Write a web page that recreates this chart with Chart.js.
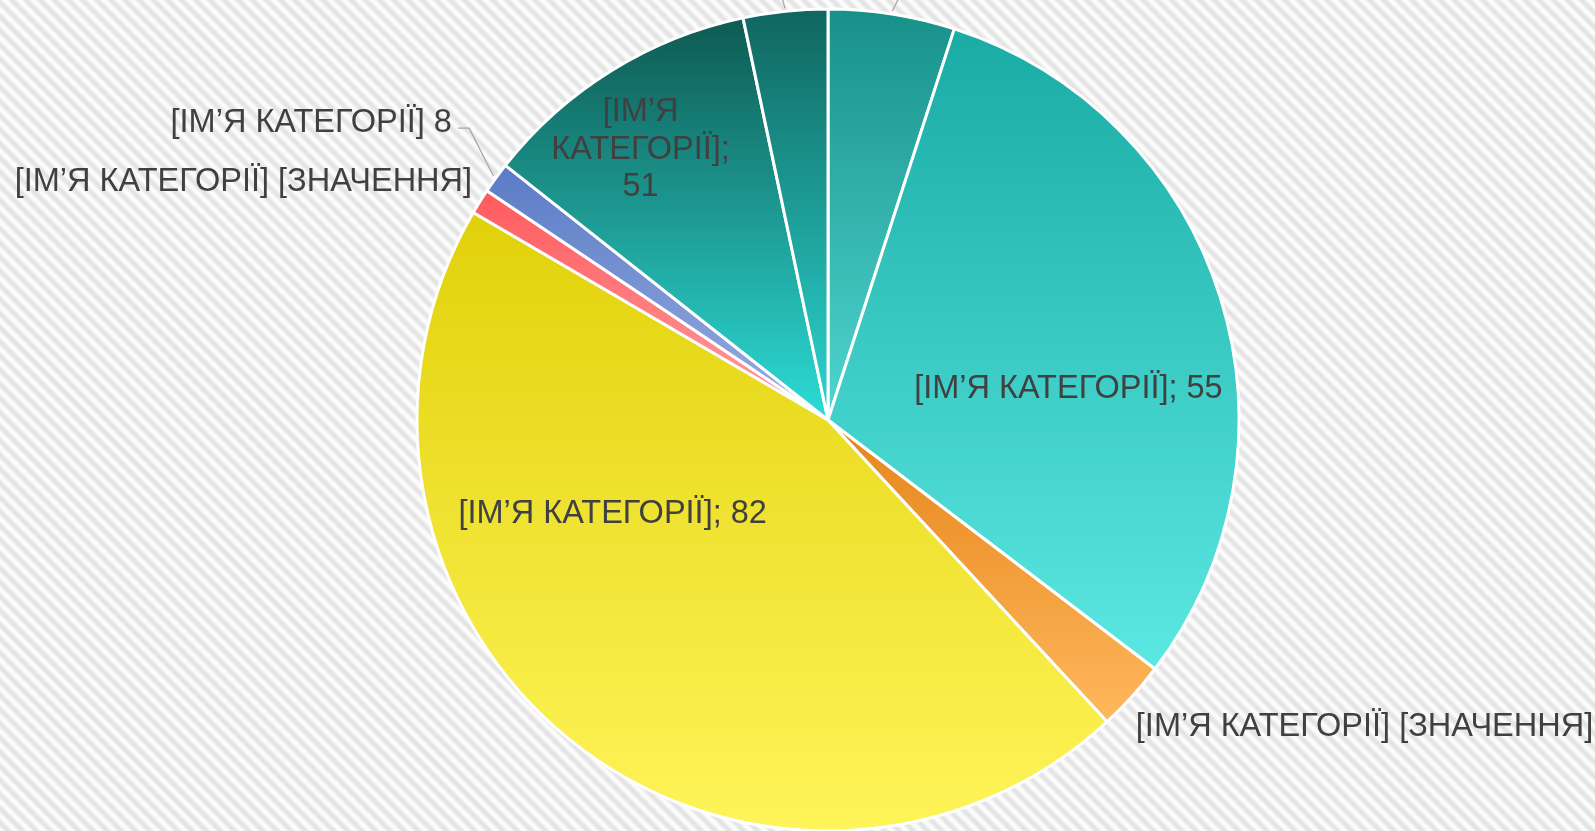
<!DOCTYPE html>
<html><head><meta charset="utf-8">
<script src="https://cdn.jsdelivr.net/npm/chart.js@4.4.1/dist/chart.umd.min.js"></script>
<style>
html,body{margin:0;padding:0;width:1595px;height:831px;overflow:hidden;
background: repeating-linear-gradient(45deg,#fcfcfc 0px,#fcfcfc 2px,#e4e4e4 5px,#e4e4e4 7px,#fcfcfc 10px);}
#wrap{position:absolute;left:0;top:0;width:1595px;height:831px;}
</style></head><body>
<div id="wrap"><canvas id="c" width="1595" height="831"></canvas></div>
<script>
// ---- data ----
const categories = ['[ІМ’Я КАТЕГОРІЇ] 1','[ІМ’Я КАТЕГОРІЇ] 2','[ІМ’Я КАТЕГОРІЇ] 3','[ІМ’Я КАТЕГОРІЇ] 4','[ІМ’Я КАТЕГОРІЇ] 5','[ІМ’Я КАТЕГОРІЇ] 6','[ІМ’Я КАТЕГОРІЇ] 7','[ІМ’Я КАТЕГОРІЇ] 8'];
const values = [9, 55, 5, 82, 1.8, 2.2, 20, 6];
const labelTexts = [
  ['[ІМ’Я КАТЕГОРІЇ] [ЗНАЧЕННЯ]'],
  ['[ІМ’Я КАТЕГОРІЇ]; 55'],
  ['[ІМ’Я КАТЕГОРІЇ] [ЗНАЧЕННЯ]'],
  ['[ІМ’Я КАТЕГОРІЇ]; 82'],
  ['[ІМ’Я КАТЕГОРІЇ] [ЗНАЧЕННЯ]'],
  ['[ІМ’Я КАТЕГОРІЇ] 8'],
  ['[ІМ’Я', 'КАТЕГОРІЇ];', '51'],
  ['[ІМ’Я КАТЕГОРІЇ] [ЗНАЧЕННЯ]']
];
const topColors    = ['#18908a','#1aaba5','#e5841a','#e1d10a','#ff5a5e','#5a7bc6','#0e5a52','#106660'];
const bottomColors = ['#4fd6cf','#5ce8e2','#ffb85c','#fff459','#ffa0a0','#9aaee0','#2ddcd6','#2cd6d0'];

// ---- label layout (fractions of the pie radius, relative to centre) ----
const labelLayout = [
  {fx: 0.207, fy: -1.17, align: 'center', leader: [[0.207, -1.098]]},
  {fx: 0.585, fy: -0.075, align: 'center'},
  {fx: 0.749, fy: 0.746, align: 'left'},
  {fx: -0.524, fy: 0.229, align: 'center'},
  {fx: -0.866, fy: -0.578, align: 'right'},
  {fx: -0.915, fy: -0.723, align: 'right', leader: [[-0.873, -0.710], [-0.900, -0.710]]},
  {fx: -0.456, fy: -0.658, align: 'center', lineH: 0.091},
  {fx: -0.13, fy: -1.17, align: 'center', leader: [[-0.13, -1.098]]}
];
const FONT = '32.5px "Liberation Sans", Arial, sans-serif';
const TEXT_COLOR = '#404040';
const LEADER_COLOR = '#a6a6a6';

function sliceGradient(ctx) {
  const i = ctx.dataIndex;
  const el = ctx.element;
  const chart = ctx.chart;
  if (!el || !chart.chartArea || typeof el.outerRadius !== 'number' || !el.outerRadius) return topColors[i];
  const {x, y, startAngle, endAngle, outerRadius} = el;
  const TAU = Math.PI * 2;
  const ys = [y, y + outerRadius * Math.sin(startAngle), y + outerRadius * Math.sin(endAngle)];
  const contains = a => { let t = a; while (t < startAngle - 1e-6) t += TAU; while (t - TAU >= startAngle - 1e-6) t -= TAU; return t <= endAngle + 1e-6; };
  if (contains(Math.PI / 2)) ys.push(y + outerRadius);
  if (contains(-Math.PI / 2)) ys.push(y - outerRadius);
  const y0 = Math.min(...ys), y1 = Math.max(...ys);
  const g = chart.ctx.createLinearGradient(0, y0, 0, y1);
  g.addColorStop(0, topColors[i]);
  g.addColorStop(1, bottomColors[i]);
  return g;
}

const labelPlugin = {
  id: 'sliceLabels',
  afterDatasetsDraw(chart) {
    const meta = chart.getDatasetMeta(0);
    const c = chart.ctx;
    c.save();
    c.font = FONT;
    c.fillStyle = TEXT_COLOR;
    c.textBaseline = 'middle';
    meta.data.forEach((arc, i) => {
      const lay = labelLayout[i];
      if (!lay) return;
      const {x: cx, y: cy, outerRadius: r, startAngle, endAngle} = arc;
      const lx = cx + lay.fx * r, ly = cy + lay.fy * r;
      if (lay.leader) {
        const mid = (startAngle + endAngle) / 2;
        c.strokeStyle = LEADER_COLOR;
        c.lineWidth = 1.3;
        c.beginPath();
        c.moveTo(cx + (r + 3) * Math.cos(mid), cy + (r + 3) * Math.sin(mid));
        lay.leader.forEach(p => c.lineTo(cx + p[0] * r, cy + p[1] * r));
        c.stroke();
      }
      const lines = labelTexts[i];
      const lh = (lay.lineH || 0.09) * r;
      c.textAlign = lay.align;
      lines.forEach((t, k) => {
        c.fillText(t, lx, ly + (k - (lines.length - 1) / 2) * lh);
      });
    });
    c.restore();
  }
};

const chart = new Chart(document.getElementById('c'), {
  type: 'pie',
  data: {
    labels: categories,
    datasets: [{
      data: values,
      backgroundColor: sliceGradient,
      borderColor: '#ffffff',
      borderWidth: 3,
      radius: 411,
      clip: false
    }]
  },
  options: {
    responsive: false,
    animation: false,
    layout: {padding: {left: 61, right: 0, top: 9, bottom: 0}},
    plugins: {legend: {display: false}, tooltip: {enabled: false}}
  },
  plugins: [labelPlugin]
});
chart.update('none');
</script>
</body></html>
